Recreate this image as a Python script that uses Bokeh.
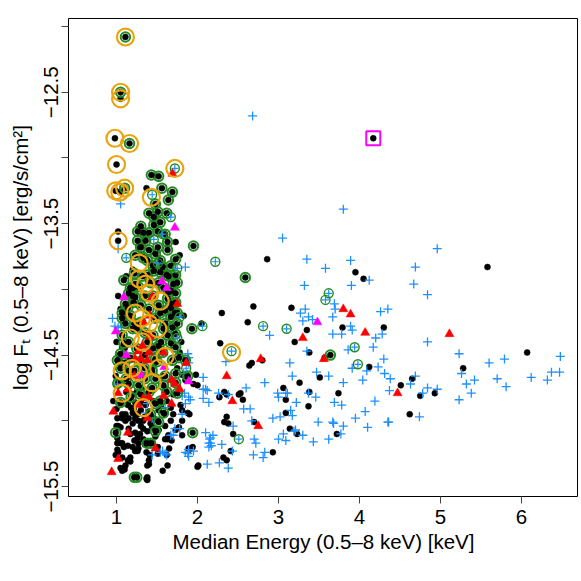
from bokeh.plotting import figure
from bokeh.models import Range1d, FixedTicker
from bokeh.embed import file_html
from bokeh.resources import INLINE

# ---------------- data (x = median energy keV, y = log flux) ----------------
x_ticks = [1, 2, 3, 4, 5, 6]
y_ticks = [-15.5, -15.0, -14.5, -14.0, -13.5, -13.0, -12.5, -12.0]
y_tick_labels = ["\u221215.5", "", "\u221214.5", "", "\u221213.5", "", "\u221212.5", ""]

black_pts = [
    (1.05,-12.55),(0.98,-12.85),(1.00,-13.05),(0.99,-13.25),(1.04,-13.26),(1.02,-13.56),(1.02,-13.63),
    (1.37,-13.23),(1.73,-13.64),(1.27,-13.68),(1.31,-13.73),(1.20,-13.85),(1.78,-13.74),
    (1.05,-14.15),(1.10,-14.45),(1.75,-14.60),(1.80,-14.40),(1.83,-14.20),(1.02,-14.05),(1.12,-13.90),
    (1.00,-14.40),(1.78,-14.48),(1.15,-14.62),(1.58,-14.66),(1.46,-14.58),
    (1.07,-14.44),(1.04,-14.50),(1.02,-14.55),(1.05,-14.60),(0.99,-14.66),(0.96,-14.85),(1.00,-14.91),
    (1.05,-14.87),(1.07,-14.98),(1.11,-15.00),(1.02,-15.05),(1.01,-15.13),(1.05,-15.17),(1.09,-15.20),
    (1.01,-15.22),(1.07,-15.28),(1.38,-15.45),
    (1.81,-14.65),(1.98,-14.65),(1.85,-14.69),(2.00,-14.73),(1.11,-14.95),(1.15,-14.98),(1.20,-14.94),
    (1.23,-14.98),(1.20,-15.02),(1.27,-15.00),(1.30,-15.04),(1.15,-15.06),(1.02,-15.04),
    (1.00,-15.04),(1.33,-15.06),(1.23,-15.09),(1.26,-15.13),(1.27,-15.17),(1.33,-15.14),(1.20,-15.20),
    (1.27,-15.21),(1.23,-15.23),(1.14,-15.19),(1.02,-15.24),(1.17,-15.28),(1.14,-15.30),(1.11,-15.34),
    (1.07,-15.38),(1.05,-15.36),(1.40,-15.30),(1.38,-15.34),(1.60,-15.14),(1.60,-14.95),(1.67,-15.00),
    (1.70,-14.95),(1.81,-15.00),(1.77,-15.05),(1.64,-15.11),(1.51,-15.20),(1.63,-15.34),(1.57,-15.38),
    (1.38,-15.43),(1.07,-14.95),(1.01,-14.98),(1.46,-14.98),(1.44,-15.05),(1.52,-15.07),(1.05,-15.05),
    (1.01,-15.17),(1.07,-15.17),(0.99,-15.26),(1.10,-15.37),(1.17,-15.31),(1.26,-15.23),(1.44,-15.17),
    (1.37,-15.24),(1.51,-15.25),(1.37,-15.44),(1.63,-15.14),(1.68,-15.15),(1.73,-15.07),(1.81,-15.11),
    (1.90,-15.22),(1.94,-15.20),(1.15,-14.85),(1.23,-14.86),(1.14,-14.88),(1.21,-14.91),(1.30,-14.92),
    (1.36,-14.88),(1.42,-15.02),(1.51,-15.00),(1.60,-15.04),(1.67,-14.90),(1.79,-14.88),(1.81,-14.92),
    (1.88,-14.94),(1.52,-14.92),(1.90,-14.95),(1.65,-15.21),(1.62,-15.26),(1.89,-15.21),(1.41,-15.26),
    (1.40,-15.33),(2.01,-15.34),
    (1.25,-14.78),(1.32,-14.75),(1.12,-14.78),(1.20,-14.80),(1.38,-14.82),(1.45,-14.85),(1.30,-14.86),
    (1.18,-14.90),(1.26,-14.95),(1.35,-14.97),(1.40,-14.93),(1.33,-15.00),(1.17,-15.10),(1.29,-15.10),
    (1.38,-15.08),(1.22,-15.15),(1.55,-14.88),(1.62,-14.85),(1.70,-14.80),(1.48,-15.12),(1.35,-15.18),
    (3.26,-14.71),(3.51,-14.67),(3.06,-14.75),(3.38,-14.78),(3.74,-14.79),(3.09,-14.84),(3.37,-14.89),
    (3.09,-14.94),(2.70,-15.01),(3.14,-15.06),(3.23,-15.10),(3.72,-15.10),(2.93,-15.24),(5.58,-13.83),
    (4.30,-14.29),(6.07,-14.48),(5.28,-14.60),(4.65,-14.68),(4.51,-14.73),(4.75,-14.81),(4.93,-14.79),
    (4.62,-14.95),(3.95,-13.87),(2.86,-13.77),(4.05,-13.92),(2.30,-14.18),(2.69,-14.13),(3.16,-14.14),
    (2.62,-14.25),(2.05,-14.26),(3.35,-14.31),(3.79,-14.29),(2.28,-14.41),(3.20,-14.40),(3.38,-14.48),
    (2.80,-14.54),(3.57,-14.52),(2.67,-14.56),(2.64,-14.58),(4.12,-14.59),(1.95,-14.72),(2.33,-14.78),
    (2.53,-14.79),(2.51,-14.80),(2.27,-14.82),(2.56,-14.84),(2.36,-14.80),(2.36,-14.97),(2.33,-15.01),
    (2.38,-15.02),(2.44,-15.10),(2.41,-15.23),(2.00,-15.35),(2.32,-15.28),(2.36,-15.30),(4.17,-12.85),
]

blue_pts = [
    (2.68,-12.68),(3.80,-13.39),(3.05,-13.61),(3.35,-13.77),(3.89,-13.78),(3.58,-13.84),(4.12,-13.93),
    (3.32,-13.97),(3.90,-13.97),(4.96,-13.69),(4.69,-13.83),(4.67,-13.96),(4.84,-14.04),(4.35,-14.15),
    (4.26,-14.17),(4.28,-14.34),(4.84,-14.40),(5.23,-14.49),(4.30,-14.53),(5.60,-14.56),(5.79,-14.53),
    (6.48,-14.51),(5.26,-14.64),(4.31,-14.64),(4.38,-14.68),(4.69,-14.66),(4.63,-14.72),(5.32,-14.72),
    (5.42,-14.69),(5.70,-14.68),(6.12,-14.67),(6.37,-14.63),(6.47,-14.63),(6.32,-14.69),(5.81,-14.74),
    (4.37,-14.77),(4.84,-14.75),(4.96,-14.76),(4.78,-14.79),(5.38,-14.79),(5.23,-14.84),(4.74,-14.97),
    (4.36,-15.01),
    (3.33,-14.15),(3.27,-14.18),(3.37,-14.21),(3.30,-14.24),(3.42,-14.23),(3.69,-14.11),(3.70,-14.15),
    (3.67,-14.21),(3.89,-14.28),(3.91,-14.31),(3.78,-14.34),(3.67,-14.34),(4.20,-14.37),(4.17,-14.44),
    (2.89,-14.35),(3.86,-14.46),(3.35,-14.47),(2.35,-14.55),(3.14,-14.56),(4.23,-14.59),(3.91,-14.60),
    (4.09,-14.62),(2.07,-14.67),(3.17,-14.66),(3.47,-14.63),(3.62,-14.66),(2.83,-14.71),(3.80,-14.71),
    (4.04,-14.69),(2.60,-14.75),(2.07,-14.76),(2.12,-14.77),(2.99,-14.79),(3.11,-14.79),(3.00,-14.82),
    (2.26,-14.79),(2.38,-14.80),(3.46,-14.82),(2.57,-14.91),(2.65,-14.91),(2.67,-15.00),(2.44,-15.04),
    (2.70,-15.14),(2.72,-15.17),(2.30,-15.18),(2.14,-15.17),(2.14,-15.20),(2.43,-15.23),(2.27,-15.32),
    (2.38,-15.36),(2.69,-15.26),(2.12,-15.33),(1.78,-15.06),(1.72,-15.06),(1.88,-15.25),(1.89,-15.27),
    (2.19,-15.11),(2.15,-15.14),(2.16,-15.17),(2.17,-15.19),(1.62,-15.26),(1.44,-15.26),(1.54,-15.24),
    (3.09,-14.79),(3.37,-14.79),(3.22,-14.86),(3.69,-14.86),(3.78,-14.88),(4.19,-14.85),(4.07,-14.93),
    (3.15,-14.92),(3.17,-14.96),(3.02,-14.97),(2.93,-14.98),(3.95,-14.98),(3.49,-15.01),(3.67,-15.01),
    (3.68,-15.02),(3.80,-15.04),(4.10,-15.05),(4.35,-15.01),(3.06,-15.10),(3.19,-15.08),(3.21,-15.07),
    (3.30,-15.11),(3.00,-15.14),(3.09,-15.15),(3.43,-15.16),(3.62,-15.14),(3.77,-15.10),(2.83,-15.24),
    (2.81,-15.28),
    (1.85,-13.83),(0.95,-14.22),(0.98,-14.28),(1.02,-14.29),(1.06,-14.28),(1.89,-14.52),(1.88,-14.49),
    (1.89,-14.56),(1.83,-14.64),(1.84,-14.79),(1.91,-14.84),(1.67,-15.11),(1.60,-15.25),(2.07,-14.83),
    (2.10,-14.76),(2.14,-14.86),(1.38,-14.87),(1.36,-14.94),(2.10,-15.09),(2.16,-15.13),(1.85,-14.87),
    (1.89,-14.82),(1.81,-14.95),(1.70,-15.11),(1.57,-15.23),(1.85,-15.24),(1.89,-15.22),(1.60,-14.90),
    (1.44,-14.98),(1.81,-14.81),(1.95,-15.23),(1.05,-13.35),(1.02,-13.69),
]

green_black_pts = [
    (1.11,-12.08),(1.05,-12.50),(1.16,-12.89),(1.10,-13.23),
    (1.95,-13.67),(2.59,-13.91),(1.93,-14.30),(3.64,-14.50),(0.99,-15.09),(1.48,-15.08),(1.38,-15.17),
    (1.94,-15.09),(1.22,-15.43),(1.25,-15.43),
    (1.43,-13.13),(1.52,-13.14),(1.56,-13.23),(1.69,-13.26),(1.64,-13.32),(1.48,-13.35),(1.40,-13.42),
    (1.51,-13.41),(1.62,-13.42),(1.46,-13.45),(1.46,-13.51),(1.54,-13.49),(1.30,-13.52),(1.26,-13.56),
    (1.33,-13.57),(1.40,-13.57),(1.51,-13.56),(1.60,-13.58),(1.63,-13.64),(1.26,-13.63),(1.36,-13.63),
    (1.30,-13.68),(1.40,-13.70),(1.51,-13.68),(1.48,-13.73),(1.63,-13.70),(1.54,-13.78),(1.33,-13.76),
    (1.23,-13.74),(1.73,-13.77),(1.67,-13.82),(1.62,-13.89),(1.73,-13.89),(1.75,-13.95),(1.23,-13.96),
    (1.20,-13.99),(1.15,-14.03),(1.23,-14.06),(1.67,-14.01),(1.73,-14.03),(1.63,-14.07),(1.73,-14.10),
    (1.67,-14.14),(1.72,-14.18),(1.54,-14.18),(1.14,-14.14),(1.17,-14.20),(1.07,-14.22),(1.22,-14.26),
    (1.60,-14.26),(1.75,-14.26),(1.38,-13.89),(1.46,-13.86),(1.54,-13.87),(1.42,-13.95),(1.52,-13.95),
    (1.58,-13.99),
    (1.57,-13.83),(1.64,-13.90),(1.70,-13.96),(1.64,-14.02),(1.17,-13.99),(1.09,-13.93),(1.20,-14.05),
    (1.11,-14.11),(1.21,-14.10),(1.67,-14.11),(1.60,-14.16),(1.75,-14.18),(1.67,-14.21),(1.07,-14.18),
    (1.11,-14.26),(1.20,-14.30),(1.69,-14.29),(1.73,-14.34),(1.63,-14.35),(1.07,-14.35),(1.09,-14.41),
    (1.52,-14.43),(1.67,-14.41),(1.73,-14.44),(1.05,-14.49),(1.01,-14.54),(1.48,-14.53),(1.69,-14.54),
    (1.77,-14.52),(1.05,-14.60),(1.44,-14.62),(1.60,-14.66),(1.73,-14.64),(1.85,-14.54),(1.88,-14.66),
    (1.15,-14.72),(1.27,-14.73),(1.44,-14.75),(1.58,-14.73),(1.05,-14.86),(1.48,-14.87),(1.54,-14.85),
    (1.42,-14.95),(1.58,-14.94),(1.75,-14.79),(1.73,-14.71),(1.02,-14.71),(1.52,-15.01),(1.42,-15.17),
    (1.10,-14.56),(1.17,-14.52),(1.25,-14.45),(1.35,-14.50),(1.45,-14.45),(1.55,-14.40),(1.12,-14.68),
    (1.35,-14.68),(1.48,-14.68),(1.62,-14.78),(1.30,-14.80),(1.18,-14.82),(1.40,-14.78),(1.25,-14.30),
    (1.35,-14.33),(1.45,-14.35),(1.30,-14.12),(1.40,-14.15),(1.48,-14.22),(1.35,-14.05),(1.27,-13.98),
    (1.45,-13.82),(1.38,-13.78),(1.58,-14.30),(1.50,-14.55),(1.15,-14.40),(1.28,-14.55),(1.30,-14.25),
    (1.38,-14.40),(1.52,-14.12),(1.45,-14.05),(1.32,-13.90),(1.22,-13.88),(1.57,-14.48),(1.22,-14.62),
    (1.35,-14.60),
]

green_cross_pts = [
    (1.72,-13.08),(1.44,-13.28),(1.67,-13.45),(1.57,-13.58),(1.46,-13.62),(1.12,-13.76),(1.75,-13.84),
    (2.22,-13.79),(1.51,-13.80),(1.78,-14.21),(2.06,-14.28),(1.01,-14.72),(1.75,-14.37),(1.86,-14.60),
    (2.51,-15.14),(2.81,-14.28),(3.10,-14.30),(3.62,-14.03),(3.58,-14.08),(3.94,-14.44),(3.98,-14.57),
    (2.42,-14.47),
]

red_pts = [
    (1.69,-13.12),(2.36,-14.66),(2.43,-14.85),(2.78,-14.53),(3.30,-14.37),(3.56,-14.53),(3.80,-14.15),
    (3.89,-14.19),(4.07,-14.33),(4.47,-14.79),(5.11,-14.34),(2.75,-15.04),(1.86,-14.56),
    (1.44,-14.06),(1.75,-14.11),(1.33,-14.25),(1.41,-14.20),(1.41,-14.36),(1.32,-14.43),(1.27,-14.47),
    (1.40,-14.48),(1.58,-14.48),(1.30,-14.53),(1.38,-14.54),(1.23,-14.53),(1.22,-14.66),(1.68,-14.69),
    (1.72,-14.72),(1.78,-14.76),(1.58,-14.81),(1.33,-14.83),(1.40,-14.82),(1.14,-14.76),(1.02,-14.79),
    (1.27,-14.88),(1.68,-14.87),(1.38,-14.98),(0.96,-14.93),(1.14,-15.09),(1.48,-15.21),(1.02,-15.29),
    (0.94,-15.39),
]

magenta_pts = [
    (1.72,-13.53),(1.56,-13.94),(1.62,-13.99),(1.09,-14.06),(0.99,-14.32),(1.12,-14.50),(1.59,-14.59),
    (1.30,-14.65),(1.89,-14.70),(3.48,-14.25),
]

orange_pts = [
    (1.11,-12.08),(1.05,-12.50),(1.05,-12.55),(0.98,-12.85),(1.16,-12.89),(1.00,-13.05),(0.99,-13.25),
    (1.10,-13.23),(1.04,-13.26),(1.72,-13.08),(1.43,-13.30),(1.02,-13.63),(1.28,-13.80),(1.28,-13.92),
    (1.36,-13.96),(1.41,-14.03),(1.54,-14.09),(1.23,-14.18),(1.31,-14.22),(1.40,-14.26),(1.17,-14.37),
    (1.32,-14.40),(1.51,-14.30),(1.60,-14.51),(1.07,-14.62),(1.19,-14.60),(1.27,-14.63),(1.52,-14.60),
    (1.44,-14.71),(1.07,-14.79),(1.33,-14.90),(2.42,-14.48),
]

square_pts = [(4.17, -12.85)]


def xs(pts):
    return [p[0] for p in pts]


def ys(pts):
    return [p[1] for p in pts]


FONT = "Liberation Sans"

p = figure(width=578, height=575,
           x_range=Range1d(0.407, 6.704), y_range=Range1d(-15.576, -11.939),
           output_backend="svg", toolbar_location=None,
           min_border_left=68, min_border_right=0, min_border_top=18, min_border_bottom=79)

p.xgrid.visible = False
p.ygrid.visible = False
p.background_fill_color = "white"
p.border_fill_color = "white"
p.outline_line_color = "black"
p.outline_line_width = 1
p.outline_line_alpha = 1.0

BLUE = "#1E90FF"
GREEN = "#228B22"
ORANGE = "#EBA40F"

p.scatter(xs(black_pts), ys(black_pts), marker="circle", size=6,
          fill_color="black", line_color="black", line_width=0.5)
p.scatter(xs(blue_pts), ys(blue_pts), marker="cross", size=9,
          line_color=BLUE, line_width=1.3)
p.scatter(xs(green_black_pts), ys(green_black_pts), marker="circle", size=9.5,
          fill_color=None, line_color=GREEN, line_width=2)
p.scatter(xs(green_black_pts), ys(green_black_pts), marker="circle", size=6,
          fill_color="black", line_color="black", line_width=0.5)
p.scatter(xs(green_cross_pts), ys(green_cross_pts), marker="circle", size=9,
          fill_color=None, line_color=GREEN, line_width=1.4)
p.scatter(xs(green_cross_pts), ys(green_cross_pts), marker="cross", size=7,
          line_color=BLUE, line_width=1.2)
p.scatter(xs(red_pts), ys(red_pts), marker="triangle", size=9,
          fill_color="red", line_color="red", line_width=0.5)
p.scatter(xs(magenta_pts), ys(magenta_pts), marker="triangle", size=9,
          fill_color="magenta", line_color="magenta", line_width=0.5)
p.scatter(xs(orange_pts), ys(orange_pts), marker="circle", size=17,
          fill_color=None, line_color=ORANGE, line_width=2.2)
p.scatter(xs(square_pts), ys(square_pts), marker="square", size=14,
          fill_color=None, line_color="magenta", line_width=2)

# axes
for ax in (p.xaxis[0], p.yaxis[0]):
    ax.axis_line_color = None
    ax.minor_tick_line_color = None
    ax.major_tick_line_color = "#444444"
    ax.major_tick_line_width = 1
    ax.major_tick_in = 0
    ax.major_tick_out = 7
    ax.major_label_text_font = FONT
    ax.major_label_text_font_size = "20.5px"
    ax.major_label_text_color = "black"
    ax.axis_label_text_font = FONT
    ax.axis_label_text_font_size = "20.5px"
    ax.axis_label_text_font_style = "normal"
    ax.axis_label_text_color = "black"

p.xaxis.ticker = FixedTicker(ticks=x_ticks)
p.xaxis.major_label_standoff = 6
p.xaxis.axis_label = "Median Energy (0.5\u20138 keV) [keV]"
p.xaxis.axis_label_standoff = 3

p.yaxis.ticker = FixedTicker(ticks=y_ticks)
p.yaxis.major_label_overrides = dict(zip(y_ticks, y_tick_labels))
p.yaxis.major_label_orientation = "vertical"
p.yaxis.major_label_standoff = 3
p.yaxis.axis_label = "log F\u209c (0.5\u20138 keV) [erg/s/cm\u00b2]"
p.yaxis.axis_label_standoff = 10

open("out.html", "w").write(file_html(p, INLINE))
